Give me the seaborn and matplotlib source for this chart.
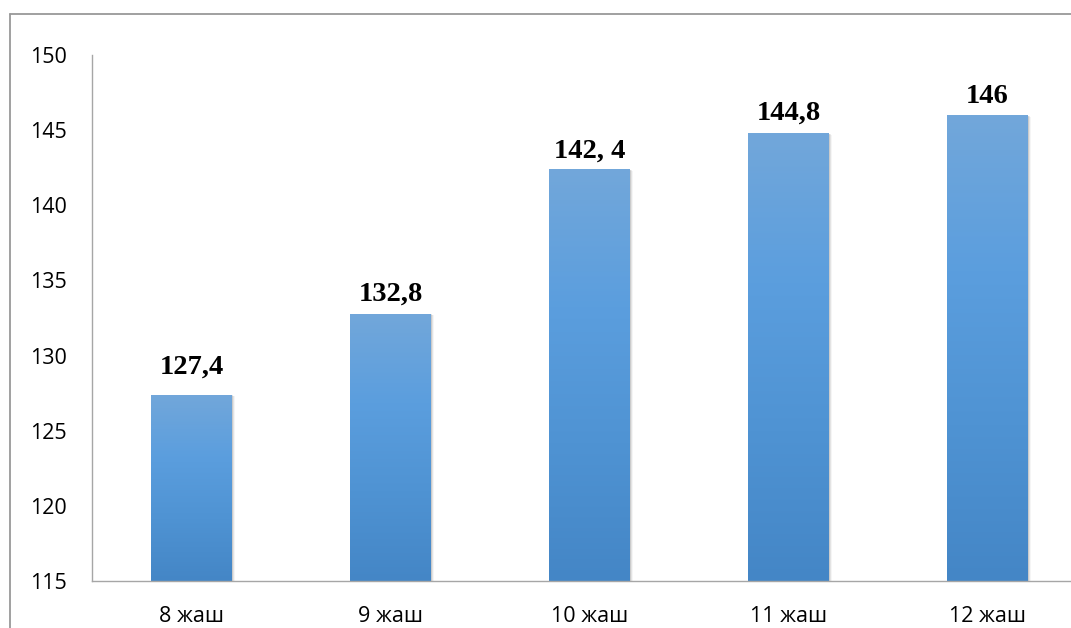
import numpy as np
import pandas as pd
import matplotlib
matplotlib.use("Agg")
import matplotlib.pyplot as plt
import matplotlib.lines as mlines
import matplotlib.patches as mpatches
import matplotlib.transforms as mtransforms
from matplotlib.colors import LinearSegmentedColormap
import seaborn as sns

# Average height by age
ages = ["8 жаш", "9 жаш", "10 жаш", "11 жаш", "12 жаш"]
heights = [127.4, 132.8, 142.4, 144.8, 146.0]
value_labels = ["127,4", "132,8", "142, 4", "144,8", "146"]
y_ticks = [115, 120, 125, 130, 135, 140, 145, 150]

# Vertical gap (points) between each bar top and its label baseline
label_gaps = [15.1, 9.1, 8.4, 9.6, 8.4]

df = pd.DataFrame({"age": ages, "height": heights})

sns.set_theme(style="white")
plt.rcParams["font.family"] = ["Open Sans", "DejaVu Sans"]

fig = plt.figure(figsize=(10.71, 6.28), dpi=100)
ax = fig.add_axes([0.0859, 0.0748, 0.929, 0.8376])

sns.barplot(data=df, x="age", y="height", ax=ax, width=0.405,
            color="#5b9bd5", saturation=1, linewidth=0)

ax.set_ylim(115, 150)
ax.set_xlim(-0.5, 4.5)
ax.set_yticks(y_ticks)
ax.set_yticklabels([str(t) for t in y_ticks], fontsize=15.5, color="#000000")
ax.tick_params(axis="y", length=0, pad=18)
ax.tick_params(axis="x", length=0, pad=18, labelsize=15.5, labelcolor="#000000")
ax.set_xlabel("")
ax.set_ylabel("")

for side in ["top", "right"]:
    ax.spines[side].set_visible(False)
for side in ["left", "bottom"]:
    ax.spines[side].set_color("#a6a6a6")
    ax.spines[side].set_linewidth(1.0)

# Vertical gradient fill for the bars with a soft drop shadow
grad_cmap = LinearSegmentedColormap.from_list(
    "bar_grad", ["#4486c6", "#4f93d3", "#5b9ede", "#72a7da"])
gradient = np.linspace(0, 1, 256).reshape(-1, 1)
for patch, val, lab, gap in zip(ax.patches, heights, value_labels, label_gaps):
    x0 = patch.get_x()
    w = patch.get_width()
    y0 = 115
    h = val - y0
    for k, a in enumerate([0.10, 0.07, 0.04]):
        sh = mpatches.Rectangle((x0, y0), w, h, facecolor="#000000", alpha=a,
                                edgecolor="none",
                                transform=mtransforms.offset_copy(ax.transData, fig=fig,
                                                                  x=1.0 + k, y=-0.5 - k * 0.5,
                                                                  units="dots"),
                                zorder=1)
        ax.add_patch(sh)
    patch.set_facecolor("none")
    im = ax.imshow(gradient, extent=[x0, x0 + w, y0, val], origin="lower",
                   aspect="auto", cmap=grad_cmap, zorder=2)
    im.set_clip_path(patch)
    ax.annotate(lab, xy=(x0 + w / 2, val), xytext=(0, gap),
                textcoords="offset points", ha="center", va="baseline",
                fontsize=20.5, fontweight="bold", family="Liberation Serif",
                color="#000000", zorder=3)

ax.set_xlim(-0.5, 4.5)
ax.set_ylim(115, 150)

# Chart area outline (left and top edges fall inside the canvas)
bx = 9.5 / 1071
by = 1 - 13.5 / 628
fig.lines.append(mlines.Line2D([bx, bx], [0, by], transform=fig.transFigure,
                               color="#999999", linewidth=1.3))
fig.lines.append(mlines.Line2D([bx, 1], [by, by], transform=fig.transFigure,
                               color="#999999", linewidth=1.3))

fig.savefig("out.png", dpi=100)
